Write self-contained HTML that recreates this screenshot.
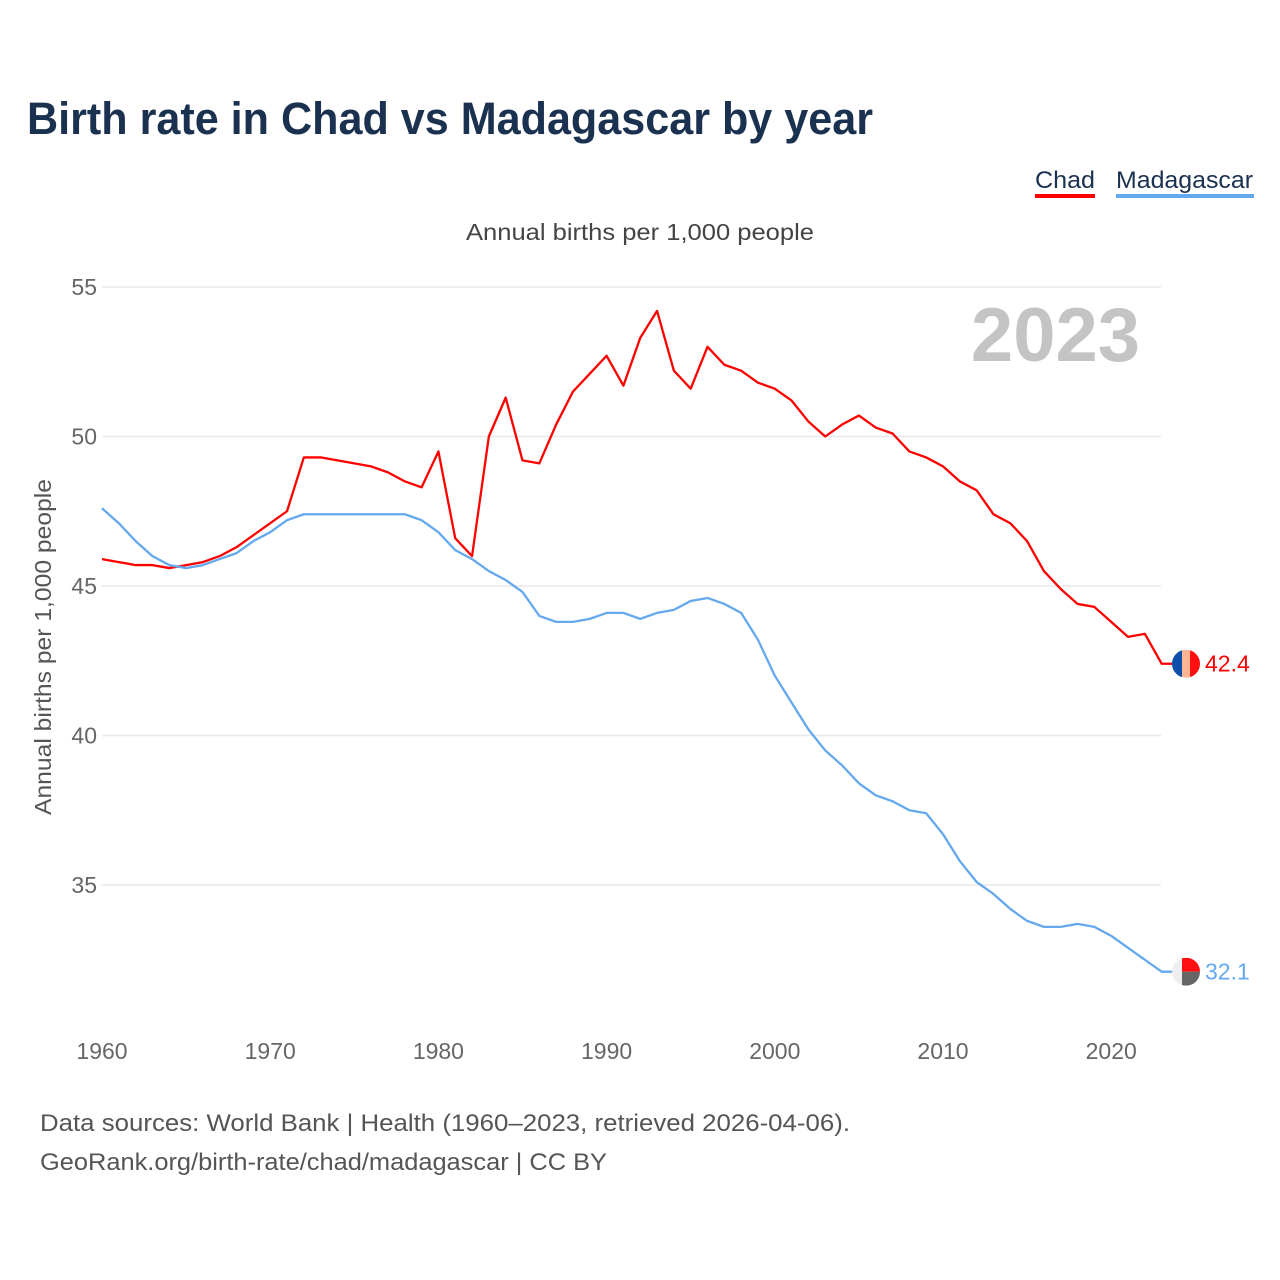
<!DOCTYPE html>
<html><head><meta charset="utf-8">
<style>
body{margin:0;background:#fff;font-family:"Liberation Sans",sans-serif;}
svg{display:block}
</style></head>
<body>
<svg id="chart" width="1280" height="1280" viewBox="0 0 1280 1280">
<text x="27" y="134" font-size="45" font-weight="bold" fill="#1a3150" textLength="846" lengthAdjust="spacingAndGlyphs">Birth rate in Chad vs Madagascar by year</text>
<g>
<text x="1035" y="188" font-size="24" fill="#1a3150" textLength="60" lengthAdjust="spacingAndGlyphs">Chad</text>
<rect x="1035" y="194" width="60" height="4" fill="#ff0000"/>
<text x="1116" y="188" font-size="24" fill="#1a3150" textLength="137" lengthAdjust="spacingAndGlyphs">Madagascar</text>
<rect x="1116" y="194" width="138" height="4" fill="#64a8ee"/>
</g>
<text x="640" y="240" font-size="23" fill="#444" text-anchor="middle" textLength="348" lengthAdjust="spacingAndGlyphs">Annual births per 1,000 people</text>
<text x="1140" y="361" font-size="76" font-weight="bold" fill="#c4c4c4" text-anchor="end">2023</text>
<text transform="translate(51,647) rotate(-90)" font-size="23" fill="#555" text-anchor="middle" textLength="336" lengthAdjust="spacingAndGlyphs">Annual births per 1,000 people</text>
<g id="grid"></g><g id="yticks"></g><g id="xticks"></g><g id="series"></g>
<text x="40" y="1131" font-size="24" fill="#555" textLength="810" lengthAdjust="spacingAndGlyphs">Data sources: World Bank | Health (1960–2023, retrieved 2026-04-06).</text>
<text x="40" y="1170" font-size="24" fill="#555" textLength="567" lengthAdjust="spacingAndGlyphs">GeoRank.org/birth-rate/chad/madagascar | CC BY</text>
</svg>
<script>
const years=[];for(let y=1960;y<=2023;y++)years.push(y);
const chad=[45.9,45.8,45.7,45.7,45.6,45.7,45.8,46.0,46.3,46.7,47.1,47.5,49.3,49.3,49.2,49.1,49.0,48.8,48.5,48.3,49.5,46.6,46.0,50.0,51.3,49.2,49.1,50.4,51.5,52.1,52.7,51.7,53.3,54.2,52.2,51.6,53.0,52.4,52.2,51.8,51.6,51.2,50.5,50.0,50.4,50.7,50.3,50.1,49.5,49.3,49.0,48.5,48.2,47.4,47.1,46.5,45.5,44.9,44.4,44.3,43.8,43.3,43.4,42.4];
const madagascar=[47.6,47.1,46.5,46.0,45.7,45.6,45.7,45.9,46.1,46.5,46.8,47.2,47.4,47.4,47.4,47.4,47.4,47.4,47.4,47.2,46.8,46.2,45.9,45.5,45.2,44.8,44.0,43.8,43.8,43.9,44.1,44.1,43.9,44.1,44.2,44.5,44.6,44.4,44.1,43.2,42.0,41.1,40.2,39.5,39.0,38.4,38.0,37.8,37.5,37.4,36.7,35.8,35.1,34.7,34.2,33.8,33.6,33.6,33.7,33.6,33.3,32.9,32.5,32.1];
const yTicks=[35,40,45,50,55];
const xTicks=[1960,1970,1980,1990,2000,2010,2020];
const NS='http://www.w3.org/2000/svg';
const X=y=>102+(y-1960)*16.82;
const Y=v=>287+(55-v)*29.9;
function mk(t,a,p){const e=document.createElementNS(NS,t);for(const k in a)e.setAttribute(k,a[k]);p.appendChild(e);return e;}
const g=document.getElementById('grid'),yt=document.getElementById('yticks'),xt=document.getElementById('xticks'),s=document.getElementById('series');
yTicks.forEach(v=>{
 const l=mk('line',{x1:102,x2:1161,y1:Y(v),y2:Y(v),stroke:'#e8e8e8','stroke-width':1.5},g);
 
 
 const t=mk('text',{x:97,y:Y(v)+8,'font-size':23,fill:'#666','text-anchor':'end'},yt);t.textContent=v;
 
 
});
xTicks.forEach(v=>{
 const t=mk('text',{x:X(v),y:1059,'font-size':23,fill:'#666','text-anchor':'middle'},xt);t.textContent=v;
 
 
});
function series(data,color,name){
 const pts=data.map((v,i)=>X(years[i])+','+Y(v));
 const last=data[data.length-1];
 pts.push((X(2023)+14)+','+Y(last));
 const p=mk('polyline',{points:pts.join(' '),fill:'none',stroke:color,'stroke-width':2.3,'stroke-linejoin':'round'},s);
 
 
 return last;
}
const lc=series(chad,'#ff0000','chad');
const lm=series(madagascar,'#64a8ee','madagascar');
const cy=Y(lc),cx=1186;
const fc=mk('g',{},s);


const cp1=mk('clipPath',{id:'c1'},fc);mk('circle',{cx:cx,cy:cy,r:14},cp1);
const gc=mk('g',{'clip-path':'url(#c1)'},fc);
mk('rect',{x:cx-14,y:cy-14,width:10,height:28,fill:'#0b4fa8'},gc);
mk('rect',{x:cx-4,y:cy-14,width:8,height:28,fill:'#ffb593'},gc);
mk('rect',{x:cx+4,y:cy-14,width:10,height:28,fill:'#ff0f0f'},gc);
const tc=mk('text',{x:1205,y:cy+8,'font-size':23,fill:'#ff0000'},s);tc.textContent=lc.toFixed(1);


const my=Y(lm);
const fm=mk('g',{},s);


const cp=mk('clipPath',{id:'c2'},fm);mk('circle',{cx:cx,cy:my,r:14},cp);
const gm=mk('g',{'clip-path':'url(#c2)'},fm);
mk('rect',{x:cx-14,y:my-14,width:10,height:28,fill:'#eeeeee'},gm);
mk('rect',{x:cx-4,y:my-14,width:18,height:14,fill:'#ff0f0f'},gm);
mk('rect',{x:cx-4,y:my,width:18,height:14,fill:'#666'},gm);
const tm=mk('text',{x:1205,y:my+8,'font-size':23,fill:'#64a8ee'},s);tm.textContent=lm.toFixed(1);


</script>
</body></html>
